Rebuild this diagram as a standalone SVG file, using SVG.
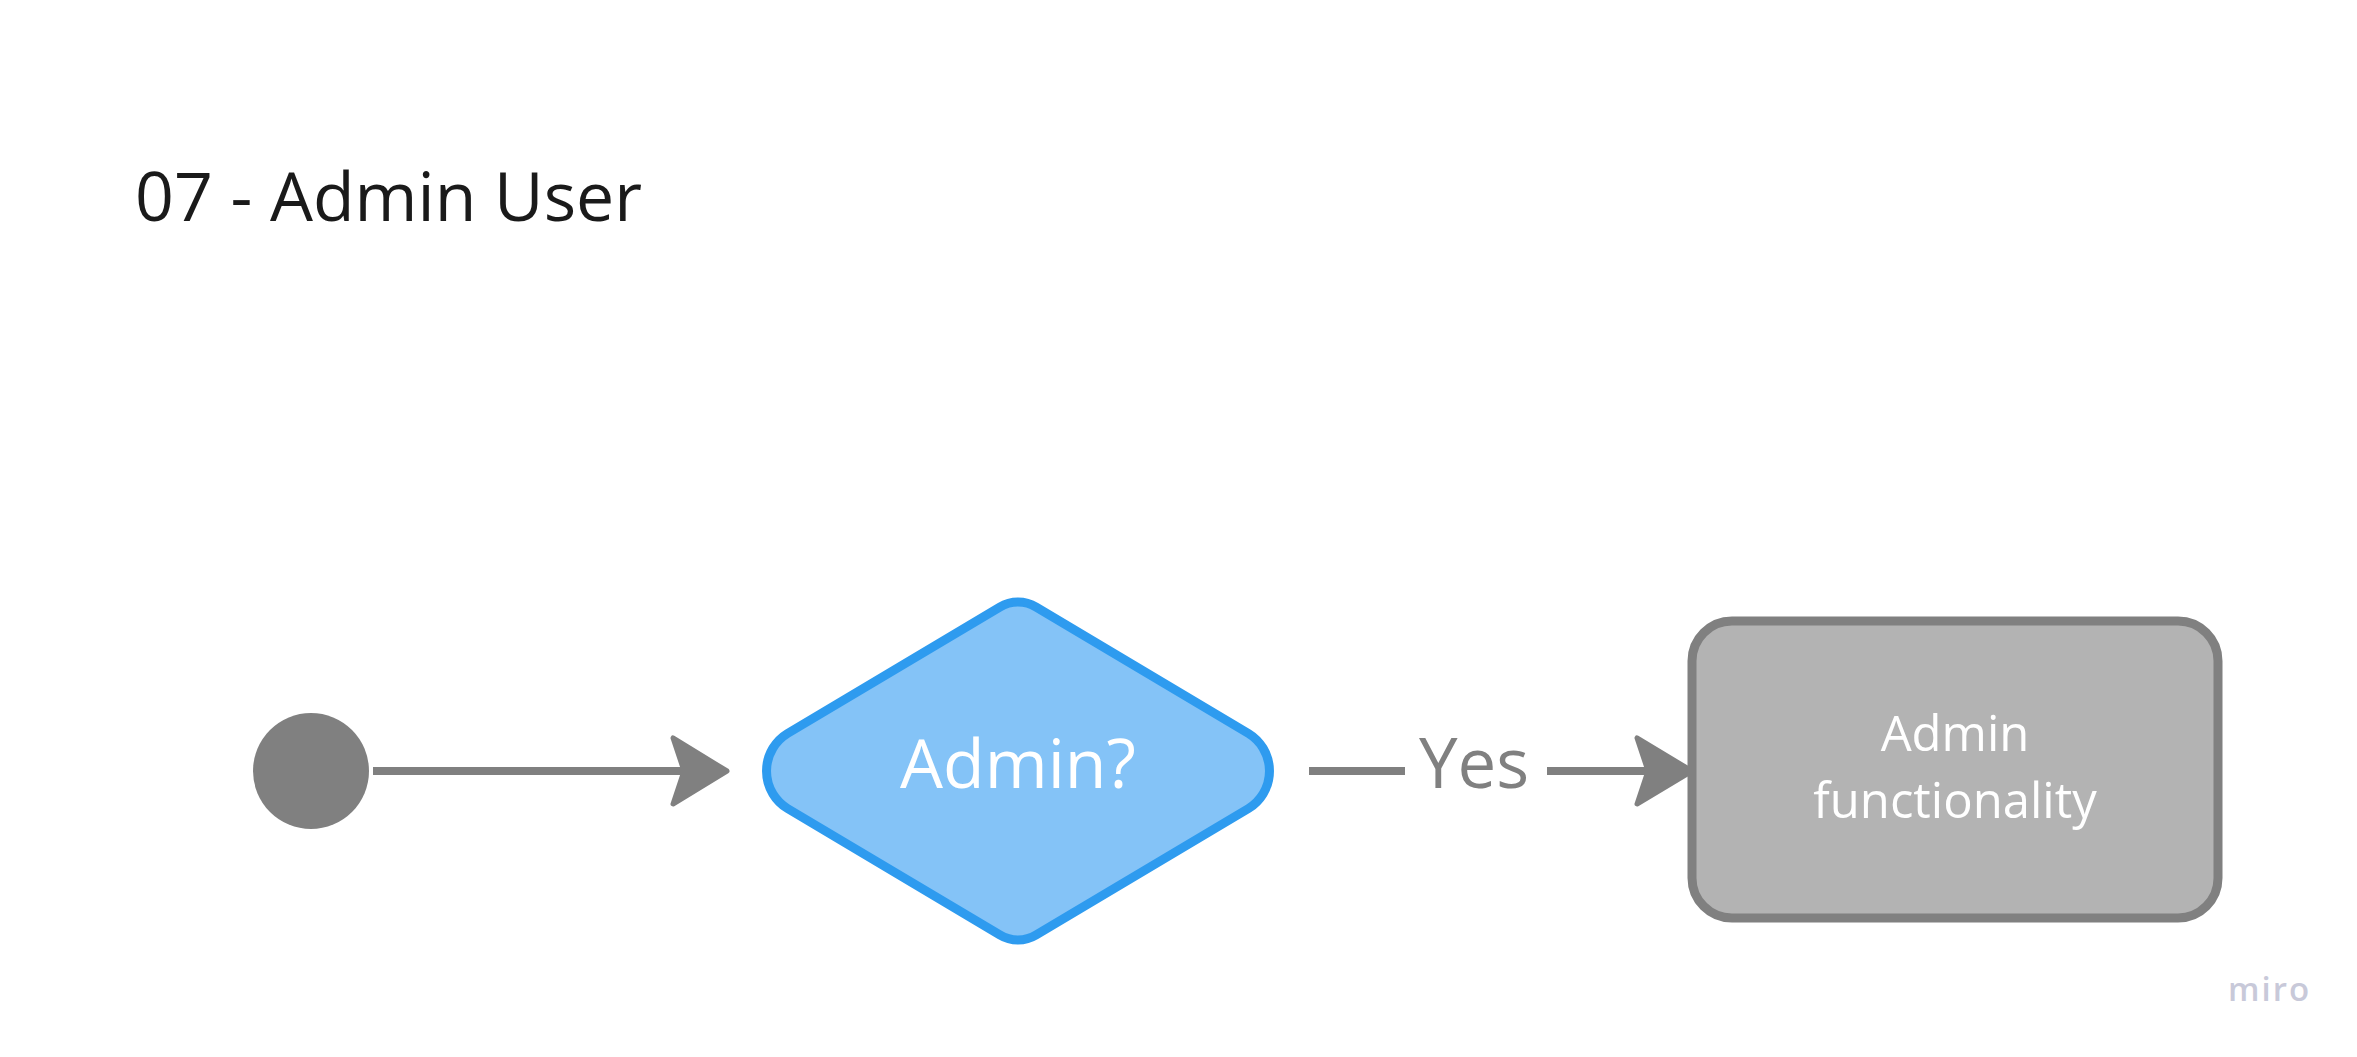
<svg xmlns="http://www.w3.org/2000/svg" width="2357" height="1057" viewBox="0 0 2357 1057">
<style>
.t{font-family:"Open Sans","Noto Sans",sans-serif}
.conn{stroke:#808080;stroke-width:8;fill:none}
.head{fill:#808080;stroke:#808080;stroke-width:5;stroke-linejoin:round}
</style>
<rect width="2357" height="1057" fill="#ffffff"/>
<text id="title" class="t" x="135" y="221" font-size="68" fill="#1a1a1a">07 - Admin User</text>
<g id="start"><circle cx="311" cy="771" r="58" fill="#808080"/></g>
<g id="decision">
<path d="M787.5,733.5 L999.8,607.1 A35,35 0 0 1 1036.2,607.1 L1248.5,733.5 A44,44 0 0 1 1248.5,808.5 L1036.2,934.9 A35,35 0 0 1 999.8,934.9 L787.5,808.5 A44,44 0 0 1 787.5,733.5 Z" fill="#84C3F7" stroke="#2E9BEF" stroke-width="9" stroke-linejoin="round"/>
<text class="t" x="1018" y="788" font-size="68" fill="#ffffff" text-anchor="middle">Admin?</text>
</g>
<g id="admin">
<rect x="1692" y="621" width="526" height="297" rx="40" fill="#B3B3B3" stroke="#808080" stroke-width="9"/>
<text class="t" font-size="49" fill="#ffffff" text-anchor="middle"><tspan x="1955" y="751">Admin</tspan><tspan x="1955" y="818">functionality</tspan></text>
</g>
<g id="connectors">
<line class="conn" x1="373" y1="771" x2="690" y2="771"/>
<path class="head" d="M727,771 L673,738 L684,771 L673,804 Z"/>
<line class="conn" x1="1309" y1="771" x2="1405" y2="771"/>
<line class="conn" x1="1547" y1="771" x2="1652" y2="771"/>
<path class="head" d="M1692,771 L1637,738 L1648,771 L1637,804 Z"/>
<text class="t" x="1474" y="788" font-size="69" fill="#808080" text-anchor="middle">Yes</text>
</g>
<text id="logo" class="t" x="2228" y="1001" font-size="33" font-weight="600" fill="#C8C9D9" letter-spacing="2">miro</text>
</svg>
